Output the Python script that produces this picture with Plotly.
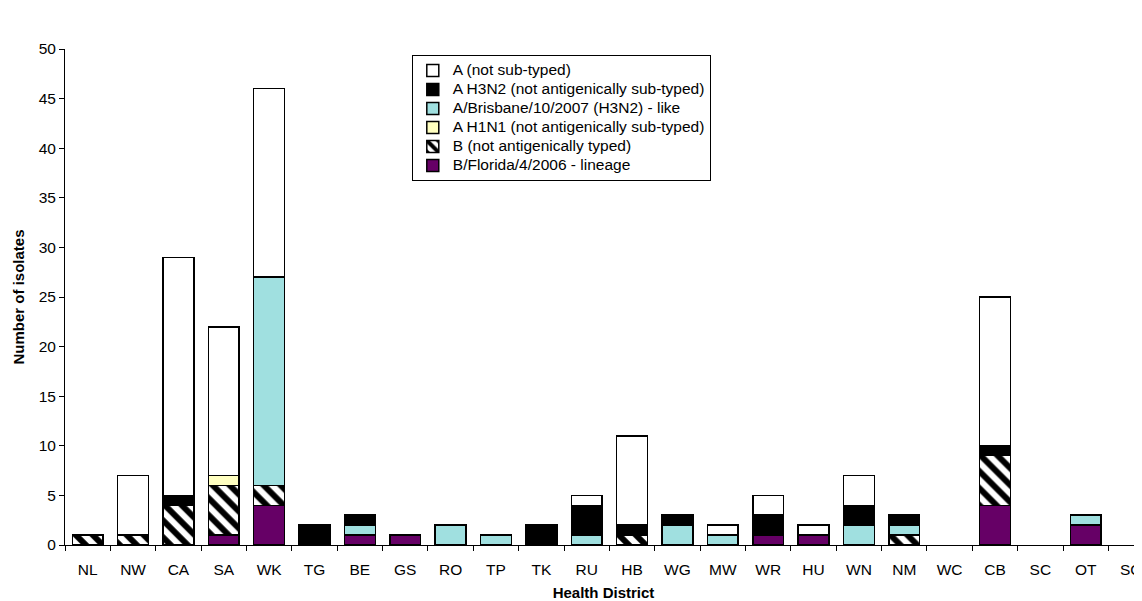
import plotly.graph_objects as go

districts = ["NL", "NW", "CA", "SA", "WK", "TG", "BE", "GS", "RO", "TP", "TK", "RU",
             "HB", "WG", "MW", "WR", "HU", "WN", "NM", "WC", "CB", "SC", "OT", "SO"]

b_florida   = [0, 0, 0, 1, 4, 0, 1, 1, 0, 0, 0, 0, 0, 0, 0, 1, 1, 0, 0, 0, 4, 0, 2, 0]
b_not_typed = [1, 1, 4, 5, 2, 0, 0, 0, 0, 0, 0, 0, 1, 0, 0, 0, 0, 0, 1, 0, 5, 0, 0, 0]
a_h1n1      = [0, 0, 0, 1, 0, 0, 0, 0, 0, 0, 0, 0, 0, 0, 0, 0, 0, 0, 0, 0, 0, 0, 0, 0]
a_brisbane  = [0, 0, 0, 0, 21, 0, 1, 0, 2, 1, 0, 1, 0, 2, 1, 0, 0, 2, 1, 0, 0, 0, 1, 0]
a_h3n2      = [0, 0, 1, 0, 0, 2, 1, 0, 0, 0, 2, 3, 1, 1, 0, 2, 0, 2, 1, 0, 1, 0, 0, 0]
a_not_sub   = [0, 6, 24, 15, 19, 0, 0, 0, 0, 0, 0, 1, 9, 0, 1, 2, 1, 3, 0, 0, 15, 0, 0, 0]

series = [
    ("B/Florida/4/2006 - lineage", b_florida, "#660066", None),
    ("B (not antigenically typed)", b_not_typed, "white", "\\"),
    ("A H1N1 (not antigenically sub-typed)", a_h1n1, "#FFFFC0", None),
    ("A/Brisbane/10/2007 (H3N2) - like", a_brisbane, "#A0E0E0", None),
    ("A H3N2 (not antigenically sub-typed)", a_h3n2, "#000000", None),
    ("A (not sub-typed)", a_not_sub, "#FFFFFF", None),
]

FONT = "Liberation Sans, Arial, sans-serif"

fig = go.Figure()
for name, vals, color, pat in series:
    marker = dict(color=color, line=dict(color="black", width=1.5))
    if pat:
        marker["pattern"] = dict(shape=pat, fgcolor="black", bgcolor="white",
                                 size=12, solidity=0.5, fillmode="replace")
    fig.add_trace(go.Bar(
        x=districts, y=[v if v else None for v in vals],
        name='<span style="font-size:15.5px">' + name + '</span>',
        marker=marker))

fig.update_layout(
    width=1134, height=593,
    barmode="stack", bargap=0.32,
    paper_bgcolor="white", plot_bgcolor="white",
    font=dict(family=FONT, size=15.5, color="black"),
    margin=dict(l=57, r=0, t=41, b=56),
    legend=dict(x=0.322, y=0.988, xanchor="left", yanchor="top",
                traceorder="reversed", bordercolor="black", borderwidth=1,
                bgcolor="white", font=dict(size=12), tracegroupgap=0,
                itemwidth=30),
    xaxis=dict(
        range=[-0.5, 23.24], showline=True, linecolor="black", linewidth=1,
        ticks="outside", ticklen=5, tickcolor="black", tickson="boundaries",
        showgrid=False, zeroline=False, ticklabelstandoff=10, automargin=False,
        title=dict(text="<b>Health District</b>", font=dict(size=15), standoff=14),
    ),
    yaxis=dict(
        range=[0, 50], dtick=5, showline=True, linecolor="black", linewidth=1,
        ticks="outside", ticklen=5, tickcolor="black", showgrid=False, zeroline=False,
        automargin=False,
        title=dict(text="<b>Number of isolates</b>", font=dict(size=15), standoff=10),
    ),
)

fig.write_html("out.html")
